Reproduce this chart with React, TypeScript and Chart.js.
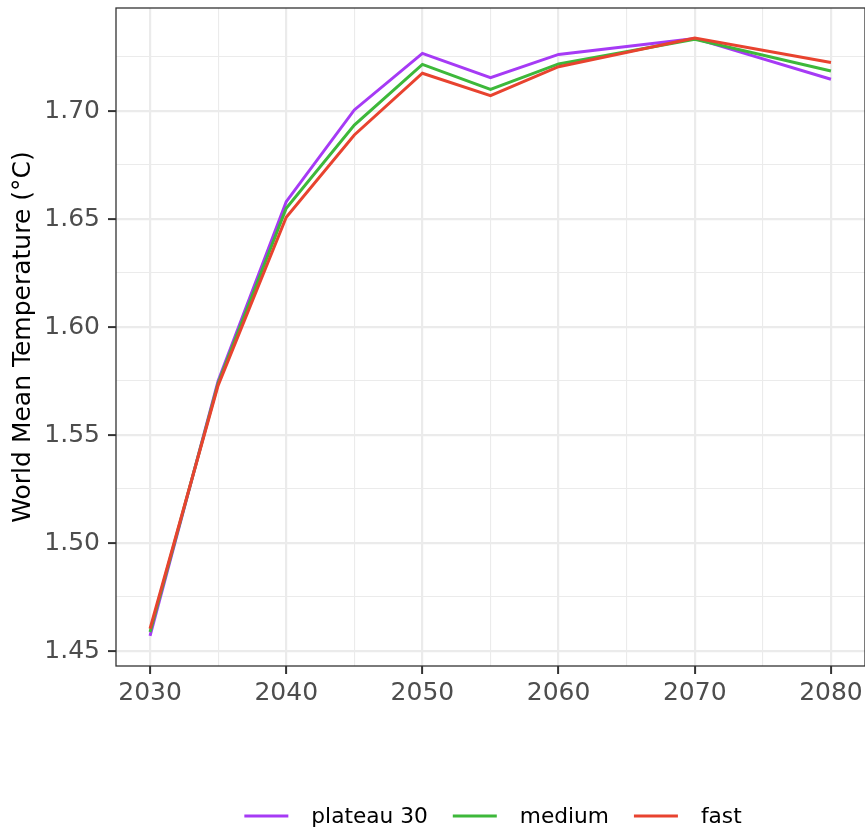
import React, { useEffect, useRef } from "react";
import { Chart, registerables } from "chart.js";

Chart.register(...registerables);

const years = [2030, 2035, 2040, 2045, 2050, 2055, 2060, 2070, 2080];
const plateau30 = [1.4570, 1.5750, 1.6580, 1.7005, 1.7267, 1.7154, 1.7262, 1.7336, 1.7147];
const medium = [1.4588, 1.5740, 1.6550, 1.6935, 1.7216, 1.7100, 1.7218, 1.7332, 1.7185];
const fast = [1.4603, 1.5730, 1.6508, 1.6889, 1.7175, 1.7071, 1.7205, 1.7338, 1.7225];

const xTicks = [2030, 2035, 2040, 2045, 2050, 2055, 2060, 2065, 2070, 2075, 2080];
const yTicks = [1.45, 1.475, 1.5, 1.525, 1.55, 1.575, 1.6, 1.625, 1.65, 1.675, 1.7, 1.725];

const seriesNames = ["plateau 30", "medium", "fast"];
const seriesColors = ["#A63AF5", "#3DB83A", "#E8432F"];

const FONT = "'DejaVu Sans', Verdana, sans-serif";

const isMajorX = (v: number) => Math.round(v) % 10 === 0;
const isMajorY = (v: number) => Math.round(v * 1000) % 50 === 0;

const panelBorder = {
  id: "panelBorder",
  afterDatasetsDraw(chart: any) {
    const { ctx, chartArea } = chart;
    ctx.save();
    ctx.strokeStyle = "#333333";
    ctx.lineWidth = 1.3;
    ctx.strokeRect(chartArea.left, chartArea.top, chartArea.right - chartArea.left, chartArea.bottom - chartArea.top);
    ctx.restore();
  },
};

const ggLegend = {
  id: "ggLegend",
  afterDraw(chart: any) {
    const { ctx } = chart;
    ctx.save();
    ctx.font = `21.7px ${FONT}`;
    const lineLen = 44;
    const gapText = 23;
    const gapItem = 25;
    const widths = seriesNames.map((n) => ctx.measureText(n).width);
    let total = 0;
    widths.forEach((w, i) => {
      total += lineLen + gapText + w + (i < widths.length - 1 ? gapItem : 0);
    });
    let x = 493 - total / 2;
    const y = 816;
    seriesNames.forEach((name, i) => {
      ctx.strokeStyle = seriesColors[i];
      ctx.lineWidth = 3;
      ctx.beginPath();
      ctx.moveTo(x, y);
      ctx.lineTo(x + lineLen, y);
      ctx.stroke();
      x += lineLen + gapText;
      ctx.fillStyle = "#000000";
      ctx.textBaseline = "middle";
      ctx.textAlign = "left";
      ctx.fillText(name, x, y + 1);
      x += widths[i] + gapItem;
    });
    ctx.restore();
  },
};

export default function App() {
  const ref = useRef<HTMLCanvasElement | null>(null);

  useEffect(() => {
    if (!ref.current) return;
    const mk = (vals: number[]) => years.map((yr, i) => ({ x: yr, y: vals[i] }));
    const all = [plateau30, medium, fast];
    const chart = new Chart(ref.current, {
      type: "line",
      data: {
        datasets: seriesNames.map((name, i) => ({
          label: name,
          data: mk(all[i]),
          borderColor: seriesColors[i],
          backgroundColor: seriesColors[i],
          borderWidth: 3,
          pointRadius: 0,
          tension: 0,
          fill: false,
          order: 3 - i,
        })),
      },
      options: {
        animation: false,
        responsive: false,
        devicePixelRatio: 1,
        layout: { padding: { top: 8, left: 8, right: 0, bottom: 0 } },
        plugins: { legend: { display: false }, tooltip: { enabled: false } },
        scales: {
          x: {
            type: "linear",
            min: 2027.5,
            max: 2082.5,
            afterBuildTicks: (scale: any) => {
              scale.ticks = xTicks.map((v) => ({ value: v }));
            },
            afterFit: (scale: any) => {
              scale.height = 163;
              scale.paddingLeft = 0;
              scale.paddingRight = 0;
            },
            ticks: {
              autoSkip: false,
              maxRotation: 0,
              padding: 4,
              color: "#4D4D4D",
              font: { family: FONT, size: 25 },
              callback: (v: any) => (isMajorX(Number(v)) ? String(v) : ""),
            },
            grid: {
              color: "#EBEBEB",
              lineWidth: (c: any) => (c.tick && isMajorX(c.tick.value) ? 2.2 : 1.1),
              tickColor: (c: any) => (c.tick && isMajorX(c.tick.value) ? "#333333" : "rgba(0,0,0,0)"),
              tickLength: 8,
              tickWidth: 2,
            },
            border: { display: false },
          },
          y: {
            type: "linear",
            min: 1.44306,
            max: 1.74769,
            afterBuildTicks: (scale: any) => {
              scale.ticks = yTicks.map((v) => ({ value: v }));
            },
            afterFit: (scale: any) => {
              scale.width = 108;
              scale.paddingTop = 0;
              scale.paddingBottom = 0;
            },
            ticks: {
              autoSkip: false,
              padding: 8,
              color: "#4D4D4D",
              font: { family: FONT, size: 25 },
              callback: (v: any) => (isMajorY(Number(v)) ? Number(v).toFixed(2) : ""),
            },
            grid: {
              color: "#EBEBEB",
              lineWidth: (c: any) => (c.tick && isMajorY(c.tick.value) ? 2.2 : 1.1),
              tickColor: (c: any) => (c.tick && isMajorY(c.tick.value) ? "#333333" : "rgba(0,0,0,0)"),
              tickLength: 8,
              tickWidth: 2,
            },
            border: { display: false },
            title: {
              display: true,
              text: "World Mean Temperature (°C)",
              color: "#000000",
              font: { family: FONT, size: 25 },
              padding: 0,
            },
          },
        },
      },
      plugins: [panelBorder, ggLegend],
    });
    return () => chart.destroy();
  }, []);

  return (
    <div style={{ position: "absolute", left: 0, top: 0, width: 865, height: 829, background: "#ffffff" }}>
      <canvas ref={ref} width={865} height={829} style={{ display: "block" }} />
    </div>
  );
}
